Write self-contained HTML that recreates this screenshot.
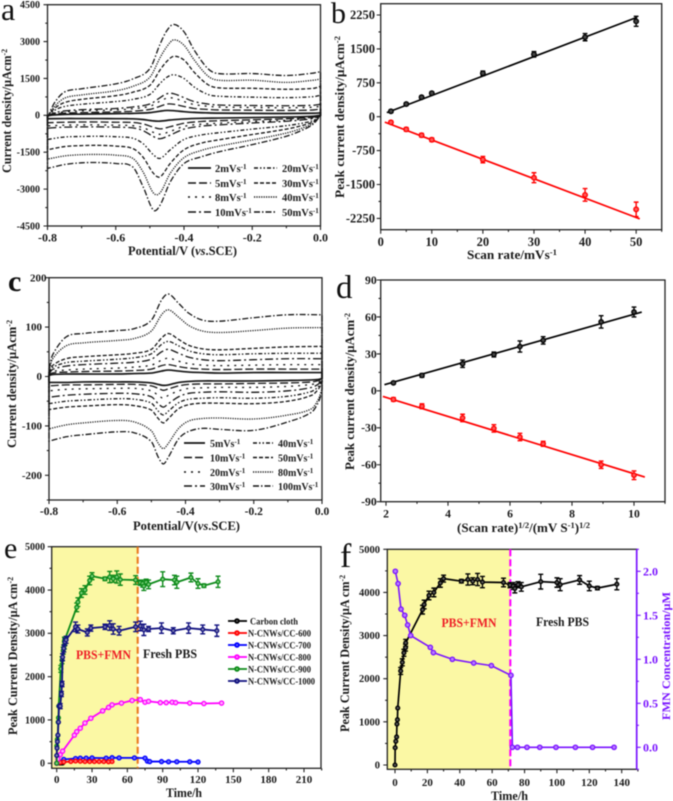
<!DOCTYPE html>
<html lang="en">
<head>
<meta charset="utf-8">
<title>Electrochemical characterisation panels</title>
<style>
html,body{margin:0;padding:0;background:#fff;width:673px;height:801px;overflow:hidden}
svg{display:block;filter:blur(0.5px)}
text{font-family:"Liberation Serif","Noto Serif CJK SC",serif;font-weight:bold;fill:#1a1a1a}
.letter{font-weight:normal;fill:#111}
</style>
</head>
<body>
<svg id="figure" xmlns="http://www.w3.org/2000/svg" width="673" height="801" viewBox="0 0 673 801">
<rect width="673" height="801" fill="#fff"/>

<g id="pa">
  <text class="letter" x="1" y="20" font-size="32">a</text>
  <text transform="translate(11,173) rotate(-90)" font-size="12.5" textLength="124" lengthAdjust="spacingAndGlyphs">Current density/μAcm<tspan dy="-4" font-size="8">-2</tspan></text>
  <text x="128" y="255" font-size="12.5" textLength="109" lengthAdjust="spacingAndGlyphs">Potential/V (<tspan font-style="italic">vs</tspan>.SCE)</text>
  <g font-size="10.5" stroke="#111" stroke-width="1.4" fill="none">
    <line x1="188" x2="211" y1="168" y2="168" stroke-width="1.7"/>
    <line x1="188" x2="211" y1="183" y2="183" stroke-dasharray="8 3"/>
    <line x1="188" x2="211" y1="197" y2="197" stroke-dasharray="2 5"/>
    <line x1="188" x2="211" y1="212" y2="212" stroke-dasharray="8 3 2 3"/>
    <line x1="254" x2="277" y1="168" y2="168" stroke-dasharray="4 2 1.5 2 1.5 2"/>
    <line x1="254" x2="277" y1="183" y2="183" stroke-dasharray="4 2"/>
    <line x1="254" x2="277" y1="197" y2="197" stroke-dasharray="1.2 1.2"/>
    <line x1="254" x2="277" y1="212" y2="212" stroke-dasharray="6 2 1.5 2"/>
  </g>
  <g font-size="10.5">
    <text x="215" y="172">2mVs<tspan dy="-3" font-size="7">-1</tspan></text>
    <text x="215" y="187">5mVs<tspan dy="-3" font-size="7">-1</tspan></text>
    <text x="215" y="201">8mVs<tspan dy="-3" font-size="7">-1</tspan></text>
    <text x="215" y="216">10mVs<tspan dy="-3" font-size="7">-1</tspan></text>
    <text x="282" y="172">20mVs<tspan dy="-3" font-size="7">-1</tspan></text>
    <text x="282" y="187">30mVs<tspan dy="-3" font-size="7">-1</tspan></text>
    <text x="282" y="201">40mVs<tspan dy="-3" font-size="7">-1</tspan></text>
    <text x="282" y="216">50mVs<tspan dy="-3" font-size="7">-1</tspan></text>
  </g>
</g>

<g id="pb">
  <text class="letter" x="331" y="23" font-size="30">b</text>
  <text transform="translate(344,198) rotate(-90)" font-size="13" textLength="162" lengthAdjust="spacingAndGlyphs">Peak current density/μAcm<tspan dy="-4" font-size="8.5">-2</tspan></text>
  <text x="467" y="259" font-size="13" textLength="90" lengthAdjust="spacingAndGlyphs">Scan rate/mVs<tspan dy="-4" font-size="8.5">-1</tspan></text>
</g>

<g id="pc">
  <text class="letter" x="8" y="291" font-size="30" style="font-weight:bold">c</text>
  <text transform="translate(16,448) rotate(-90)" font-size="12.5" textLength="128" lengthAdjust="spacingAndGlyphs">Current density/μAcm<tspan dy="-4" font-size="8">-2</tspan></text>
  <text x="133" y="530" font-size="12.5" textLength="107" lengthAdjust="spacingAndGlyphs">Potential/V(<tspan font-style="italic">vs</tspan>.SCE)</text>
  <g stroke="#111" stroke-width="1.4" fill="none">
    <line x1="184" x2="205" y1="443" y2="443" stroke-width="1.7"/>
    <line x1="184" x2="205" y1="457.5" y2="457.5" stroke-dasharray="8 3"/>
    <line x1="184" x2="205" y1="472" y2="472" stroke-dasharray="2 5"/>
    <line x1="184" x2="205" y1="486" y2="486" stroke-dasharray="8 3 2 3"/>
    <line x1="253" x2="273" y1="443" y2="443" stroke-dasharray="4 2 1.5 2 1.5 2"/>
    <line x1="253" x2="273" y1="457.5" y2="457.5" stroke-dasharray="4 2"/>
    <line x1="253" x2="273" y1="472" y2="472" stroke-dasharray="1.2 1.2"/>
    <line x1="253" x2="273" y1="486" y2="486" stroke-dasharray="6 2 1.5 2"/>
  </g>
  <g font-size="10">
    <text x="210" y="447">5mVs<tspan dy="-3" font-size="7">-1</tspan></text>
    <text x="210" y="461.5">10mVs<tspan dy="-3" font-size="7">-1</tspan></text>
    <text x="210" y="476">20mVs<tspan dy="-3" font-size="7">-1</tspan></text>
    <text x="210" y="490">30mVs<tspan dy="-3" font-size="7">-1</tspan></text>
    <text x="278" y="447">40mVs<tspan dy="-3" font-size="7">-1</tspan></text>
    <text x="278" y="461.5">50mVs<tspan dy="-3" font-size="7">-1</tspan></text>
    <text x="278" y="476">80mVs<tspan dy="-3" font-size="7">-1</tspan></text>
    <text x="278" y="490">100mVs<tspan dy="-3" font-size="7">-1</tspan></text>
  </g>
</g>

<g id="pd">
  <text class="letter" x="336" y="298" font-size="33">d</text>
  <text transform="translate(354,470) rotate(-90)" font-size="12.5" textLength="157" lengthAdjust="spacingAndGlyphs">Peak current density/μAcm<tspan dy="-4" font-size="8">-2</tspan></text>
  <text x="457" y="532" font-size="13" textLength="133" lengthAdjust="spacingAndGlyphs">(Scan rate)<tspan dy="-4" font-size="8.5">1/2</tspan><tspan dy="4">/(mV S</tspan><tspan dy="-4" font-size="8.5">-1</tspan><tspan dy="4">)</tspan><tspan dy="-4" font-size="8.5">1/2</tspan></text>
</g>

<g id="pe">
  <text class="letter" x="4" y="558" font-size="30">e</text>
  <rect id="yellowE" fill="#fbf8a4"/>
  <text transform="translate(17,735) rotate(-90)" font-size="12.5" textLength="158" lengthAdjust="spacingAndGlyphs">Peak Current Density/μA cm<tspan dy="-4" font-size="8">-2</tspan></text>
  <text x="166" y="797" font-size="13" textLength="36" lengthAdjust="spacingAndGlyphs">Time/h</text>
  <text x="76" y="659" font-size="13" textLength="55" lengthAdjust="spacingAndGlyphs" style="fill:#ee1c25">PBS+FMN</text>
  <text x="143" y="658" font-size="13" textLength="54" lengthAdjust="spacingAndGlyphs">Fresh PBS</text>
  <g stroke-width="1.8" fill="none">
    <line x1="228" x2="247" y1="621" y2="621" stroke="#000"/>
    <circle cx="237" cy="621" r="1.9" stroke="#000" fill="#555"/>
    <line x1="228" x2="247" y1="633" y2="633" stroke="#f00"/>
    <circle cx="237" cy="633" r="1.9" stroke="#f00" fill="#f66"/>
    <line x1="228" x2="247" y1="645" y2="645" stroke="#00f"/>
    <circle cx="237" cy="645" r="1.9" stroke="#00f" fill="#66f"/>
    <line x1="228" x2="247" y1="657" y2="657" stroke="#f0f"/>
    <circle cx="237" cy="657" r="1.9" stroke="#f0f" fill="#f8f"/>
    <line x1="228" x2="247" y1="669" y2="669" stroke="#0d8a1a"/>
    <circle cx="237" cy="669" r="1.9" stroke="#0d8a1a" fill="#6c6"/>
    <line x1="228" x2="247" y1="681" y2="681" stroke="#10107f"/>
    <circle cx="237" cy="681" r="1.9" stroke="#10107f" fill="#66a"/>
  </g>
  <g font-size="9.5">
    <text x="250" y="624.5" textLength="48" lengthAdjust="spacingAndGlyphs">Carbon cloth</text>
    <text x="248" y="636.5" textLength="63" lengthAdjust="spacingAndGlyphs">N-CNWs/CC-600</text>
    <text x="248" y="648.5" textLength="63" lengthAdjust="spacingAndGlyphs">N-CNWs/CC-700</text>
    <text x="248" y="660.5" textLength="63" lengthAdjust="spacingAndGlyphs">N-CNWs/CC-800</text>
    <text x="248" y="672.5" textLength="63" lengthAdjust="spacingAndGlyphs">N-CNWs/CC-900</text>
    <text x="248" y="684.5" textLength="67" lengthAdjust="spacingAndGlyphs">N-CNWs/CC-1000</text>
  </g>
</g>

<g id="pf">
  <text class="letter" x="340" y="567" font-size="34">f</text>
  <rect id="yellowF" fill="#fbf8a4"/>
  <text transform="translate(349,732) rotate(-90)" font-size="12.5" textLength="157" lengthAdjust="spacingAndGlyphs">Peak Current Density/μA cm<tspan dy="-4" font-size="8">-2</tspan></text>
  <text transform="translate(670,720) rotate(-90)" font-size="12" textLength="128" lengthAdjust="spacingAndGlyphs" style="fill:#7a14ff">FMN Concentration/μM</text>
  <text x="491" y="800" font-size="13" textLength="37" lengthAdjust="spacingAndGlyphs">Time/h</text>
  <text x="441.5" y="627" font-size="13" textLength="55" lengthAdjust="spacingAndGlyphs" style="fill:#ee1c25">PBS+FMN</text>
  <text x="536" y="626" font-size="13" textLength="53" lengthAdjust="spacingAndGlyphs">Fresh PBS</text>
</g>
</svg>

<script>
/* ---------- Panel a: cyclic voltammograms (potential / V, current / uA cm-2) ---------- */
const aUpperV = [-0.8,-0.78,-0.75,-0.7,-0.6,-0.55,-0.5,-0.47,-0.45,-0.43,-0.4,-0.37,-0.33,-0.3,-0.2,-0.1,-0.02,0];
const aLowerV = [-0.8,-0.75,-0.7,-0.65,-0.6,-0.55,-0.52,-0.49,-0.47,-0.44,-0.4,-0.35,-0.3,-0.2,-0.1,-0.05,-0.02,0];
const aRates = [2,5,8,10,20,30,40,50];
const aUp2  = [-10,20,40,50,70,80,110,170,200,190,150,120,100,90,80,75,85,100];
const aUp5  = [-20,50,90,110,140,170,240,370,460,450,360,280,240,220,210,200,220,260];
const aUp8  = [-25,80,140,180,220,270,370,580,700,700,560,440,370,340,320,310,330,370];
const aUp10 = [-30,100,180,230,280,340,460,720,880,880,720,560,460,420,400,390,410,450];
const aUp20 = [-50,200,360,450,560,650,850,1300,1550,1650,1500,1150,850,780,740,720,760,820];
const aUp30 = [-60,280,520,650,800,940,1220,1850,2200,2400,2250,1750,1250,1120,1100,1060,1100,1180];
const aUp40 = [-80,350,700,830,1000,1180,1550,2350,2800,3070,2850,2250,1600,1430,1430,1340,1430,1480];
const aUp50 = [-100,500,950,1080,1280,1480,1900,2900,3450,3700,3400,2650,1900,1700,1700,1620,1720,1780];
const aLow2  = [-140,-130,-130,-130,-135,-140,-170,-225,-235,-190,-145,-120,-110,-90,-70,-55,-35,0];
const aLow5  = [-300,-280,-270,-270,-280,-290,-350,-480,-550,-460,-320,-250,-220,-180,-140,-110,-70,0];
const aLow8  = [-430,-400,-390,-390,-400,-420,-500,-690,-770,-650,-450,-360,-320,-250,-200,-150,-100,0];
const aLow10 = [-520,-480,-470,-470,-480,-510,-620,-860,-950,-800,-560,-440,-390,-310,-240,-180,-120,0];
const aLow20 = [-980,-880,-860,-850,-870,-930,-1150,-1600,-1750,-1400,-980,-800,-710,-560,-420,-310,-200,0];
const aLow30 = [-1400,-1270,-1230,-1220,-1250,-1350,-1700,-2350,-2500,-1950,-1400,-1130,-1000,-780,-560,-400,-250,0];
const aLow40 = [-1780,-1650,-1600,-1590,-1620,-1750,-2300,-3150,-3150,-2350,-1720,-1430,-1260,-1000,-720,-500,-300,0];
const aLow50 = [-2160,-2000,-1930,-1920,-1960,-2100,-2900,-3850,-3650,-2700,-1960,-1690,-1490,-1190,-850,-580,-340,0];
const aXTicks = [-0.8,-0.6,-0.4,-0.2,0];
const aYTicks = [-4500,-3000,-1500,0,1500,3000,4500];

/* ---------- Panel b: peak current vs scan rate ---------- */
const bRate = [2,5,8,10,20,30,40,50];
const bAnodic = [120,280,430,520,960,1380,1760,2110];
const bAnodicErr = [30,30,30,30,50,60,80,110];
const bCathodic = [-125,-280,-410,-510,-950,-1350,-1730,-2050];
const bCathodicErr = [30,40,40,40,70,110,140,160];
const bFitAnodicX = [1.2,50.2];
const bFitAnodicY = [90,2200];
const bFitCathodicX = [0.8,50.7];
const bFitCathodicY = [-120,-2260];
const bXTicks = [0,10,20,30,40,50];
const bYTicks = [-2250,-1500,-750,0,750,1500,2250];

/* ---------- Panel c: cyclic voltammograms ---------- */
const cUpperV = [-0.8,-0.79,-0.75,-0.7,-0.6,-0.55,-0.5,-0.47,-0.45,-0.42,-0.39,-0.35,-0.3,-0.2,-0.1,0];
const cLowerV = [-0.8,-0.75,-0.7,-0.6,-0.55,-0.5,-0.48,-0.465,-0.45,-0.42,-0.39,-0.35,-0.3,-0.2,-0.1,-0.03,-0.01,0];
const cRates = [5,10,20,30,40,50,80,100];
const cUp5   = [2,4,5,5,5,6,7,11,13,11,9,8,7,8,8,8];
const cUp10  = [3,7,9,10,11,12,15,22,24,20,17,15,14,15,15,15];
const cUp20  = [4,10,13,15,17,19,23,33,37,31,26,23,22,23,24,24];
const cUp30  = [5,14,21,24,27,29,35,50,55,47,39,34,32,34,36,36];
const cUp40  = [7,18,28,31,35,38,46,65,71,62,52,46,44,46,47,47];
const cUp50  = [8,22,36,40,44,47,55,78,87,75,63,56,54,57,60,61];
const cUp80  = [12,35,62,68,73,77,92,125,135,120,103,92,89,93,98,99];
const cUp100 = [15,43,80,87,93,97,114,155,167,148,128,114,112,119,125,125];
const cLow5   = [-12,-12,-11,-11,-11,-13,-16,-18,-17,-12,-10,-9,-9,-9,-8,-7,-6,-4];
const cLow10  = [-19,-17,-17,-16,-16,-19,-24,-28,-25,-19,-16,-15,-15,-14,-13,-11,-8,-5];
const cLow20  = [-29,-26,-25,-24,-24,-29,-38,-44,-38,-29,-24,-23,-22,-22,-20,-16,-12,-6];
const cLow30  = [-42,-38,-36,-34,-35,-41,-55,-62,-55,-41,-34,-32,-31,-32,-29,-22,-15,-8];
const cLow40  = [-55,-50,-48,-45,-46,-54,-70,-78,-70,-53,-46,-44,-43,-44,-40,-30,-20,-10];
const cLow50  = [-67,-62,-60,-57,-59,-68,-85,-94,-85,-65,-57,-54,-54,-55,-50,-38,-25,-12];
const cLow80  = [-106,-98,-94,-89,-92,-110,-135,-146,-135,-105,-90,-85,-84,-86,-78,-65,-45,-25];
const cLow100 = [-131,-122,-118,-112,-114,-132,-163,-177,-163,-126,-111,-105,-107,-109,-92,-72,-51,-30];
const cXTicks = [-0.8,-0.6,-0.4,-0.2,0];
const cYTicks = [-200,-100,0,100,200];

/* ---------- Panel d: peak current vs sqrt(scan rate) ---------- */
const dRoot = [2.24,3.16,4.47,5.48,6.32,7.07,8.94,10];
const dAnodic = [6.5,12.5,22,29.5,36,41,56,64];
const dAnodicErr = [1,1.5,3,2,4.5,3,5,4];
const dCathodic = [-7,-12.5,-22,-30.5,-37.5,-43,-60,-68.5];
const dCathodicErr = [1.5,2,3,3,3,2,3,3.5];
const dFitAnodicX = [1.95,10.25];
const dFitAnodicY = [5,64];
const dFitCathodicX = [1.9,10.35];
const dFitCathodicY = [-4.5,-70];
const dXTicks = [2,4,6,8,10];
const dYTicks = [-90,-60,-30,0,30,60,90];

/* ---------- Panels e, f: stability traces ---------- */
const t900 = [0,0.1,0.5,1,1.2,1.5,1.7,3.5,4.5,5.5,6.5,6.6,17,18,21,24,28,30,41,45,48,51,54,67,71,73,74,76,78,90,100,102,114,120,125,137];
const j900 = [0,400,550,650,950,1050,1320,2180,2380,2600,2720,2830,3600,3720,3930,4000,4220,4320,4260,4300,4260,4300,4240,4230,4170,4150,4090,4180,4130,4250,4230,4180,4290,4150,4100,4190];
const e900 = [0,0,0,0,0,0,0,80,80,80,80,80,100,100,100,100,100,80,40,130,80,140,130,100,60,80,100,70,100,170,110,140,100,110,40,130];
const t1000 = [0,0.3,0.6,1,1.5,2,3,4,4.5,5,6,7,8,16,18,26,29,41,45,48,53,67,71,74,78,89,99,112,124,136];
const j1000 = [180,350,500,650,950,1320,1320,1600,1830,2450,2650,2800,2850,3150,3100,3020,3120,3150,3180,3100,3060,3150,3170,3080,3100,3120,3060,3120,3090,3060];
const e1000 = [0,0,0,0,0,0,60,60,60,80,80,80,80,110,90,80,70,60,110,120,100,110,110,130,60,120,70,120,100,130];
const t800 = [0,1,3,5,15,17,20,24,29,39,44,47,55,64,71,75,78,88,93,98,101,113,125,140];
const j800 = [0,100,200,280,650,730,810,930,1040,1210,1290,1350,1390,1450,1470,1410,1430,1400,1400,1410,1400,1390,1380,1390];
const t700 = [0,3,6,16,20,25,30,42,47,53,66,75,77,79,89,95,102,113,120];
const j700 = [0,30,90,110,120,120,125,120,130,125,125,120,50,40,40,35,35,35,30];
const t600 = [0,3,6,12,16,20,24,28,32,36,40,44,47];
const j600 = [0,20,30,40,50,45,40,40,40,40,40,35,40];
const tCloth = [0,1,2,3,4,5];
const jCloth = [0,5,5,5,5,5];
const eXTicks = [0,30,60,90,120,150,180,210];
const eYTicks = [0,1000,2000,3000,4000,5000];
const fCurrentTime = [0,0.1,0.5,1,1.2,1.5,1.7,3.5,4.5,5.5,6.5,6.6,17,18,21,24,28,30,41,45,48,51,54,67,71,73,74,76,78,90,100,102,114,120,125,137];
const fCurrent = [0,400,550,650,950,1050,1320,2180,2380,2600,2720,2830,3600,3720,3930,4000,4220,4320,4260,4300,4260,4300,4240,4230,4170,4150,4090,4180,4130,4250,4230,4180,4290,4150,4100,4190];
const fCurrentErr = [0,0,0,0,0,0,0,80,80,80,80,80,100,100,100,100,100,80,40,130,80,140,130,100,60,80,100,70,100,170,110,140,100,110,40,130];
const fFmnTime = [0.2,1.9,3.7,6,7.8,9.7,21.8,23.7,35.4,48.6,59.5,71.6,72.5,75.6,81.5,89.4,99.4,111.4,122,135.3];
const fFmn = [2,1.86,1.57,1.5,1.39,1.27,1.136,1.076,1,0.958,0.928,0.818,0,0,0,0,0,0,0,0];
const fXTicks = [0,20,40,60,80,100,120,140];
const fYTicks = [0,1000,2000,3000,4000,5000];
const fRightTicks = [0,0.5,1,1.5,2];

/* ---------- drawing helpers ---------- */
const NS = 'http://www.w3.org/2000/svg';
function draw(tag, parent, name, attrs) {
  const el = document.createElementNS(NS, tag);
  for (const k in attrs) el.setAttribute(k, attrs[k]);
  
  
  parent.appendChild(el);
  return el;
}
function linear(d0, d1, r0, r1) {
  const f = v => r0 + (v - d0) * (r1 - r0) / (d1 - d0);
  return f;
}
function range(from, to, step) {
  const out = [];
  for (let v = from; v <= to + step * 1e-6; v += step) out.push(v);
  return out;
}
function axisFrame(g, box, sx, sy, o) {
  const frame = draw('rect', g, 'plot-frame', {
    x: box.x0, y: box.y0, width: box.x1 - box.x0, height: box.y1 - box.y0,
    fill: 'none', stroke: '#222', 'stroke-width': 1.3
  });
  let dx = '', dy = '';
  o.xMinor.forEach(v => { dx += 'M' + sx(v) + ' ' + box.y1 + 'v2.2'; });
  o.xTicks.forEach(v => { dx += 'M' + sx(v) + ' ' + box.y1 + 'v4'; });
  o.yMinor.forEach(v => { dy += 'M' + box.x0 + ' ' + sy(v) + 'h-2.2'; });
  o.yTicks.forEach(v => { dy += 'M' + box.x0 + ' ' + sy(v) + 'h-4'; });
  draw('path', g, 'x-axis-ticks', {d: dx, stroke: '#222', 'stroke-width': 1.1, fill: 'none'});
  draw('path', g, 'y-axis-ticks', {d: dy, stroke: '#222', 'stroke-width': 1.1, fill: 'none'});
  o.xTicks.forEach(v => {
    const t = draw('text', g, 'x-tick-label', {x: sx(v), y: o.xBase, 'font-size': o.xSize, 'text-anchor': 'middle'});
    t.textContent = o.xFmt(v);
  });
  o.yTicks.forEach(v => {
    const isTop = o.topDx && Math.abs(sy(v) - box.y0) < 1;
    const t = draw('text', g, 'y-tick-label', {
      x: o.yRight + (isTop ? o.topDx : 0), y: sy(v) + o.ySize * 0.33,
      'font-size': o.ySize, 'text-anchor': 'end'
    });
    t.textContent = o.yFmt(v);
  });
  return frame;
}
function hermite(xs, ys) {
  const n = xs.length, m = [];
  for (let i = 0; i < n; i++) {
    if (i === 0) m.push((ys[1] - ys[0]) / (xs[1] - xs[0]));
    else if (i === n - 1) m.push((ys[n - 1] - ys[n - 2]) / (xs[n - 1] - xs[n - 2]));
    else m.push((ys[i + 1] - ys[i - 1]) / (xs[i + 1] - xs[i - 1]));
  }
  let d = '';
  for (let i = 0; i < n - 1; i++) {
    const h = xs[i + 1] - xs[i];
    d += 'C' + (xs[i] + h / 3).toFixed(2) + ' ' + (ys[i] + m[i] * h / 3).toFixed(2) + ' ' +
         (xs[i + 1] - h / 3).toFixed(2) + ' ' + (ys[i + 1] - m[i + 1] * h / 3).toFixed(2) + ' ' +
         xs[i + 1].toFixed(2) + ' ' + ys[i + 1].toFixed(2);
  }
  return d;
}
function cvLoop(g, name, sx, sy, upV, up, lowV, low, dash, w) {
  const ux = upV.map(sx), uy = up.map(sy);
  const lx = lowV.map(sx).reverse(), ly = low.map(sy).reverse();
  const d = 'M' + ux[0].toFixed(2) + ' ' + uy[0].toFixed(2) + hermite(ux, uy) +
            'L' + lx[0].toFixed(2) + ' ' + ly[0].toFixed(2) + hermite(lx, ly) + 'Z';
  draw('path', g, name, {d: d, fill: 'none', stroke: '#151515', 'stroke-width': w, 'stroke-dasharray': dash});
}
function polyline(g, name, sx, sy, xs, ys, color, w) {
  const pts = xs.map((x, i) => sx(x).toFixed(2) + ',' + sy(ys[i]).toFixed(2)).join(' ');
  draw('polyline', g, name, {points: pts, fill: 'none', stroke: color, 'stroke-width': w, 'stroke-linejoin': 'round'});
}
function errorBars(g, name, sx, sy, xs, ys, errs, color, cap) {
  let d = '';
  xs.forEach((x, i) => {
    if (!errs[i]) return;
    const px = sx(x), a = sy(ys[i] - errs[i]), b = sy(ys[i] + errs[i]);
    d += 'M' + px.toFixed(2) + ' ' + a.toFixed(2) + 'V' + b.toFixed(2);
    d += 'M' + (px - cap).toFixed(2) + ' ' + a.toFixed(2) + 'h' + (2 * cap);
    d += 'M' + (px - cap).toFixed(2) + ' ' + b.toFixed(2) + 'h' + (2 * cap);
  });
  draw('path', g, name, {d: d, fill: 'none', stroke: color, 'stroke-width': 1.4});
}
function markers(g, name, sx, sy, xs, ys, color, fill, r) {
  xs.forEach((x, i) => {
    draw('circle', g, name, {cx: sx(x).toFixed(2), cy: sy(ys[i]).toFixed(2), r: r, fill: fill, stroke: color, 'stroke-width': 1.3});
  });
}
const fmt0 = v => String(v);
const fmt1 = v => v.toFixed(1);
const dashes = ['', '8 3', '2 5', '8 3 2 3', '4 2 1.5 2 1.5 2', '4 2', '1.2 1.2', '6 2 1.5 2'];

/* ---------- Panel a ---------- */
(function () {
  const g = document.getElementById('pa');
  const box = {x0: 47.5, x1: 320.5, y0: 4.7, y1: 226};
  const sx = linear(-0.8, 0, box.x0, box.x1), sy = linear(-4500, 4500, box.y1, box.y0);
  const ups = [aUp2, aUp5, aUp8, aUp10, aUp20, aUp30, aUp40, aUp50];
  const lows = [aLow2, aLow5, aLow8, aLow10, aLow20, aLow30, aLow40, aLow50];
  axisFrame(g, box, sx, sy, {xTicks: aXTicks, xMinor: range(-0.7, -0.1, 0.2), yTicks: aYTicks, yMinor: range(-3750, 3750, 1500),
    xBase: 241.5, xSize: 12, xFmt: fmt1, yRight: 40, ySize: 10, yFmt: fmt0});
  aRates.forEach((r, i) => cvLoop(g, 'cv-curve-' + r + 'mvs', sx, sy, aUpperV, ups[i], aLowerV, lows[i], dashes[i], i === 0 ? 1.7 : 1.3));
})();

/* ---------- Panel b ---------- */
(function () {
  const g = document.getElementById('pb');
  const box = {x0: 380.7, x1: 661.7, y0: 3.7, y1: 229.7};
  const sx = linear(0, 55, box.x0, box.x1), sy = linear(-2500, 2500, box.y1, box.y0);
  axisFrame(g, box, sx, sy, {xTicks: bXTicks, xMinor: range(5, 55, 10), yTicks: bYTicks, yMinor: range(-1875, 1875, 750),
    xBase: 246, xSize: 12.5, xFmt: fmt0, yRight: 375, ySize: 12.5, yFmt: fmt0});
  polyline(g, 'anodic-fit-line', sx, sy, bFitAnodicX, bFitAnodicY, '#000', 1.7);
  polyline(g, 'cathodic-fit-line', sx, sy, bFitCathodicX, bFitCathodicY, '#f00', 1.7);
  errorBars(g, 'anodic-error-bars', sx, sy, bRate, bAnodic, bAnodicErr, '#000', 2.4);
  errorBars(g, 'cathodic-error-bars', sx, sy, bRate, bCathodic, bCathodicErr, '#f00', 2.4);
  markers(g, 'anodic-point', sx, sy, bRate, bAnodic, '#000', '#444', 2.3);
  markers(g, 'cathodic-point', sx, sy, bRate, bCathodic, '#f00', '#f55', 2.3);
})();

/* ---------- Panel c ---------- */
(function () {
  const g = document.getElementById('pc');
  const box = {x0: 49, x1: 322, y0: 277.7, y1: 500};
  const sx = linear(-0.8, 0, box.x0, box.x1), sy = linear(-250, 200, box.y1, box.y0);
  const ups = [cUp5, cUp10, cUp20, cUp30, cUp40, cUp50, cUp80, cUp100];
  const lows = [cLow5, cLow10, cLow20, cLow30, cLow40, cLow50, cLow80, cLow100];
  axisFrame(g, box, sx, sy, {xTicks: cXTicks, xMinor: range(-0.7, -0.1, 0.2), yTicks: cYTicks, yMinor: range(-250, 150, 100),
    xBase: 515, xSize: 11.5, xFmt: fmt1, yRight: 42, ySize: 11, yFmt: fmt0, topDx: 4.5});
  cRates.forEach((r, i) => cvLoop(g, 'cv-curve-' + r + 'mvs', sx, sy, cUpperV, ups[i], cLowerV, lows[i], dashes[i], i === 0 ? 1.7 : 1.3));
})();

/* ---------- Panel d ---------- */
(function () {
  const g = document.getElementById('pd');
  const box = {x0: 380.7, x1: 665, y0: 280, y1: 501.7};
  const sx = linear(2, 10, 386, 634), sy = linear(-90, 90, box.y1, box.y0);
  axisFrame(g, box, sx, sy, {xTicks: dXTicks, xMinor: range(3, 11, 2), yTicks: dYTicks, yMinor: range(-75, 75, 30),
    xBase: 517.5, xSize: 11.7, xFmt: fmt0, yRight: 376.7, ySize: 11.7, yFmt: fmt0});
  polyline(g, 'anodic-fit-line', sx, sy, dFitAnodicX, dFitAnodicY, '#000', 1.7);
  polyline(g, 'cathodic-fit-line', sx, sy, dFitCathodicX, dFitCathodicY, '#f00', 1.7);
  errorBars(g, 'anodic-error-bars', sx, sy, dRoot, dAnodic, dAnodicErr, '#000', 2.4);
  errorBars(g, 'cathodic-error-bars', sx, sy, dRoot, dCathodic, dCathodicErr, '#f00', 2.4);
  markers(g, 'anodic-point', sx, sy, dRoot, dAnodic, '#000', '#444', 2.2);
  markers(g, 'cathodic-point', sx, sy, dRoot, dCathodic, '#f00', '#f55', 2.2);
})();

/* ---------- Panel e ---------- */
(function () {
  const g = document.getElementById('pe');
  const box = {x0: 51.7, x1: 321, y0: 546.7, y1: 768.3};
  const sx = linear(0, 210, 56.7, 304), sy = linear(0, 5000, 763.3, box.y0);
  const y = document.getElementById('yellowE');
  y.setAttribute('x', box.x0); y.setAttribute('y', box.y0);
  y.setAttribute('width', 137.7 - box.x0); y.setAttribute('height', box.y1 - box.y0);
  axisFrame(g, box, sx, sy, {xTicks: eXTicks, xMinor: range(15, 225, 30), yTicks: eYTicks, yMinor: range(500, 4500, 1000),
    xBase: 783, xSize: 11, xFmt: fmt0, yRight: 45, ySize: 10, yFmt: fmt0});
  draw('line', g, 'medium-change-marker', {x1: 137.7, x2: 137.7, y1: box.y0, y2: box.y1, stroke: '#ea7a1e', 'stroke-width': 2.1, 'stroke-dasharray': '7 3'});
  polyline(g, 'series-carbon-cloth', sx, sy, tCloth, jCloth, '#000', 1.8);
  markers(g, 'carbon-cloth-point', sx, sy, tCloth, jCloth, '#000', '#555', 1.9);
  polyline(g, 'series-cc-700', sx, sy, t700, j700, '#00f', 1.8);
  markers(g, 'cc-700-point', sx, sy, t700, j700, '#00f', '#66f', 2);
  polyline(g, 'series-cc-600', sx, sy, t600, j600, '#f00', 1.8);
  markers(g, 'cc-600-point', sx, sy, t600, j600, '#f00', '#f66', 1.9);
  polyline(g, 'series-cc-800', sx, sy, t800, j800, '#f0f', 1.8);
  markers(g, 'cc-800-point', sx, sy, t800, j800, '#f0f', '#faf', 2.1);
  polyline(g, 'series-cc-900', sx, sy, t900, j900, '#0d8a1a', 1.8);
  errorBars(g, 'cc-900-error-bars', sx, sy, t900, j900, e900, '#0d8a1a', 2.5);
  markers(g, 'cc-900-point', sx, sy, t900, j900, '#0d8a1a', '#7c7', 1.9);
  polyline(g, 'series-cc-1000', sx, sy, t1000, j1000, '#10107f', 1.8);
  errorBars(g, 'cc-1000-error-bars', sx, sy, t1000, j1000, e1000, '#10107f', 2.5);
  markers(g, 'cc-1000-point', sx, sy, t1000, j1000, '#10107f', '#77a', 1.9);
})();

/* ---------- Panel f ---------- */
(function () {
  const g = document.getElementById('pf');
  const box = {x0: 387.3, x1: 636.7, y0: 549.3, y1: 769.3};
  const sx = linear(0, 140, 395, 621.7), sy = linear(0, 5000, 765, box.y0);
  const sr = linear(0, 2, 747.3, 571.3);
  const y = document.getElementById('yellowF');
  y.setAttribute('x', box.x0); y.setAttribute('y', box.y0);
  y.setAttribute('width', 510.3 - box.x0); y.setAttribute('height', box.y1 - box.y0);
  axisFrame(g, box, sx, sy, {xTicks: fXTicks, xMinor: range(10, 150, 20), yTicks: fYTicks, yMinor: range(500, 4500, 1000),
    xBase: 786, xSize: 11, xFmt: fmt0, yRight: 380, ySize: 10.5, yFmt: fmt0});
  draw('line', g, 'medium-change-marker', {x1: 510.3, x2: 510.3, y1: box.y0, y2: box.y1, stroke: '#f0f', 'stroke-width': 2.1, 'stroke-dasharray': '7 3'});
  draw('line', g, 'right-axis-line', {x1: box.x1, x2: box.x1, y1: box.y0, y2: box.y1, stroke: '#7a14ff', 'stroke-width': 1.7});
  let d = '';
  fRightTicks.forEach(v => { d += 'M' + box.x1 + ' ' + sr(v).toFixed(2) + 'h4'; });
  range(-0.25, 2.25, 0.5).forEach(v => { d += 'M' + box.x1 + ' ' + sr(v).toFixed(2) + 'h2.2'; });
  draw('path', g, 'right-axis-ticks', {d: d, stroke: '#7a14ff', 'stroke-width': 1.2, fill: 'none'});
  fRightTicks.forEach(v => {
    const t = draw('text', g, 'right-tick-label', {x: 643, y: sr(v) + 4, 'font-size': 12, style: 'fill:#7a14ff'});
    t.textContent = fmt1(v);
  });
  polyline(g, 'peak-current-line', sx, sy, fCurrentTime, fCurrent, '#000', 1.7);
  errorBars(g, 'peak-current-error-bars', sx, sy, fCurrentTime, fCurrent, fCurrentErr, '#000', 2.5);
  markers(g, 'peak-current-point', sx, sy, fCurrentTime, fCurrent, '#000', '#555', 1.9);
  polyline(g, 'fmn-concentration-line', sx, sr, fFmnTime, fFmn, '#7a14ff', 1.6);
  markers(g, 'fmn-concentration-point', sx, sr, fFmnTime, fFmn, '#7a14ff', '#b77bff', 2.2);
})();
</script>
</body>
</html>
